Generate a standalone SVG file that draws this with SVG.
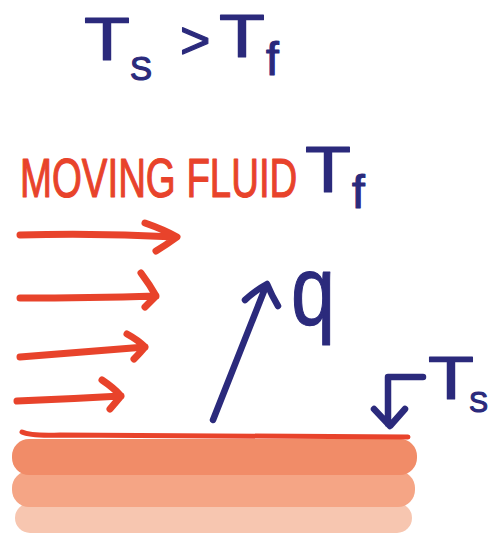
<svg xmlns="http://www.w3.org/2000/svg" width="489" height="535" viewBox="0 0 489 535">
<style>
.navy{fill:#2b2a7c;stroke:#2b2a7c;stroke-width:1.2;stroke-linejoin:round;font-family:"Liberation Sans",Arial,sans-serif}
.red{fill:#e8432b;stroke:#e8432b;stroke-width:1.2;stroke-linejoin:round;font-family:"Liberation Sans",Arial,sans-serif}
.rarrow{fill:none;stroke:#e8432b;stroke-width:7;stroke-linecap:round;stroke-linejoin:round}
.barrow{fill:none;stroke:#2b2a7c;stroke-width:6.5;stroke-linecap:round;stroke-linejoin:round}
</style>
<rect width="489" height="535" fill="#ffffff"/>
<g id="condition">
<text class="navy" x="84" y="60" font-size="62" textLength="46" lengthAdjust="spacingAndGlyphs">T</text>
<text class="navy" x="130" y="80" font-size="33">S</text>
<text class="navy" x="180" y="58" font-size="52">&gt;</text>
<text class="navy" x="219" y="57" font-size="62" textLength="46" lengthAdjust="spacingAndGlyphs">T</text>
<text class="navy" x="266" y="75" font-size="46">f</text>
</g>
<g id="fluid-label">
<text class="red" transform="translate(20,197) scale(0.686,1)" x="0" y="0" font-size="56">MOVING FLUID</text>
<text class="navy" x="305" y="192" font-size="64" textLength="46" lengthAdjust="spacingAndGlyphs">T</text>
<text class="navy" x="352" y="208" font-size="46">f</text>
</g>
<g id="flow-arrows">
<path class="rarrow" d="M20 235 Q100 233 176 237 M145 223 Q165 230 177 237 Q166 245 156 251"/>
<path class="rarrow" d="M20 298 Q90 298 156 296 M141 273 Q150 285 156 296 Q150 302 145 307"/>
<path class="rarrow" d="M20 357 Q80 352 145 347 M127 334 Q138 340 145 347 Q140 353 134 359"/>
<path class="rarrow" d="M17 401 Q70 399 121 396 M102 380 Q114 388 121 396 Q116 402 110 409"/>
</g>
<g id="heat-flux">
<path class="barrow" d="M213 420 L266 286 M245 300 Q256 290 267 284 Q272 296 278 306"/>
<text class="navy" x="291" y="325" font-size="98" textLength="44" lengthAdjust="spacingAndGlyphs">q</text>
</g>
<g id="surface-label">
<path class="barrow" d="M423 377 L388 377 L388 424 M374 409 L390 426 L405 409"/>
<text class="navy" x="428" y="399" font-size="62" textLength="46" lengthAdjust="spacingAndGlyphs">T</text>
<text class="navy" x="469" y="412" font-size="30" textLength="19" lengthAdjust="spacingAndGlyphs">S</text>
</g>
<g id="wall">
<rect x="15" y="503" width="397" height="30" rx="15" fill="#f7c6b0"/>
<rect x="12" y="471" width="403" height="36" rx="17" fill="#f5a585"/>
<rect x="12" y="439" width="405" height="36" rx="17" fill="#f18c68"/>
<path d="M22 432 Q30 436 60 435 L408 437" fill="none" stroke="#e8432b" stroke-width="5" stroke-linecap="round"/>
</g>
</svg>
